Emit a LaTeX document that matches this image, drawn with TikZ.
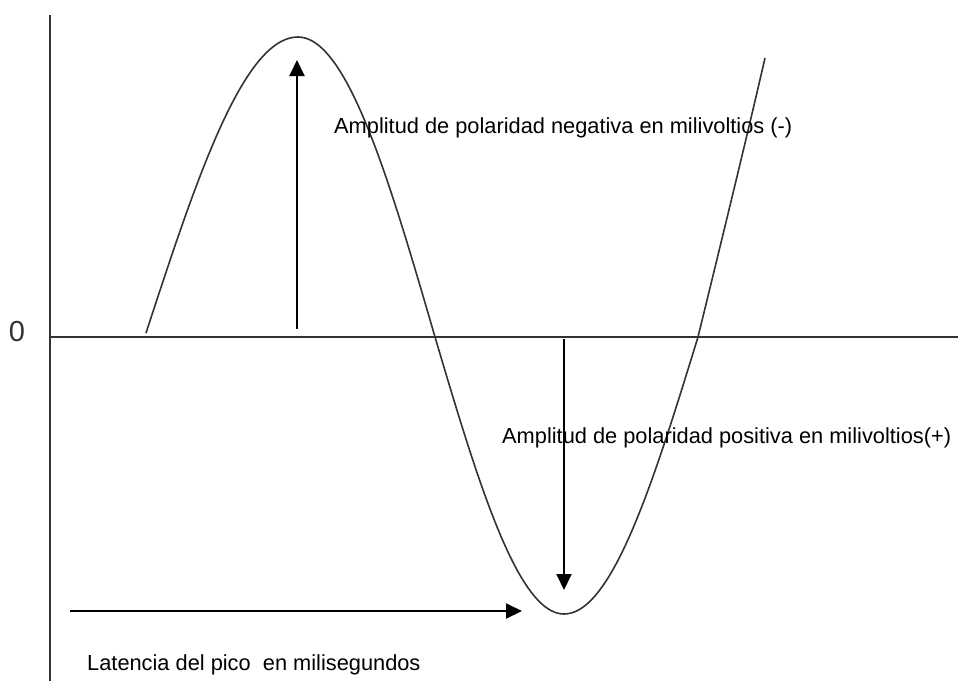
\documentclass[tikz,border=0pt]{standalone}
\usepackage{fontspec}
\setmainfont{Liberation Sans}
\usetikzlibrary{arrows.meta}
\begin{document}
\begin{tikzpicture}[x=1pt,y=-1pt,
  axis/.style={line width=2pt,draw=black!80},
  wave/.style={line width=1.6pt,draw=black!80},
  meas/.style={line width=2pt,draw=black,-{Triangle[width=15pt,length=16pt]}},
  lbl/.style={anchor=base west,inner sep=0pt,font=\fontsize{21.8}{24}\selectfont}]
\useasboundingbox (0,0) rectangle (958,681);
% axes
\coordinate (yTop) at (50,15);
\coordinate (yBot) at (50,681);
\coordinate (xL) at (50,337);
\coordinate (xR) at (958,337);
\draw[axis] (yTop) -- (yBot);
\draw[axis] (xL) -- (xR);
\node[inner sep=0pt,font=\fontsize{29}{32}\selectfont,text=black!80] (zero) at (17,332) {0};
% wave
\draw[wave] plot[domain=146:298,samples=40,variable=\t] ({\t},{37+296*(1-cos(90*(298-\t)/152))})
  -- plot[domain=298:435,samples=40,variable=\t] ({\t},{37+300*(1-cos(90*(\t-298)/137))})
  -- plot[domain=435:564,samples=40,variable=\t] ({\t},{337+277*sin(90*(\t-435)/129)})
  -- plot[domain=564:698,samples=40,variable=\t] ({\t},{337+277*cos(90*(\t-564)/134)})
  .. controls (718,255) and (745,145) .. (765,58);
% measurement arrows
\coordinate (upS) at (297,329);
\coordinate (upE) at (297,60);
\coordinate (dnS) at (564,339);
\coordinate (dnE) at (564,590);
\coordinate (ltS) at (70,611);
\coordinate (ltE) at (522,611);
\draw[meas] (upS) -- (upE);
\draw[meas] (dnS) -- (dnE);
\draw[meas] (ltS) -- (ltE);
% labels
\node[lbl] (neg) at (334,133) {Amplitud de polaridad negativa en milivoltios (-)};
\node[lbl] (pos) at (502,443) {Amplitud de polaridad positiva en milivoltios(+)};
\node[lbl] (lat) at (87,670) {Latencia del pico\ \ en milisegundos};
\end{tikzpicture}
\end{document}
